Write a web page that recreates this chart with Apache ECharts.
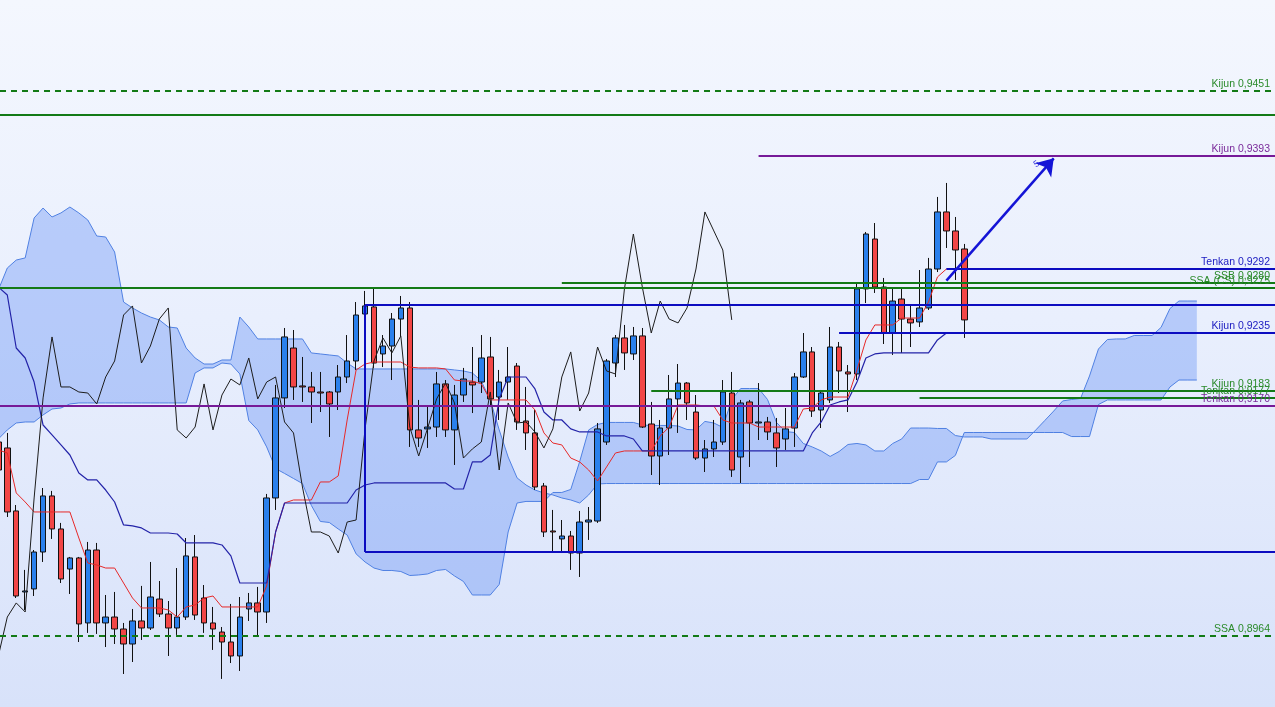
<!DOCTYPE html>
<html><head><meta charset="utf-8">
<script src="https://cdn.jsdelivr.net/npm/echarts@6/dist/echarts.min.js"></script>
<style>
html,body{margin:0;padding:0;width:1275px;height:707px;overflow:hidden;}
body{background:linear-gradient(to bottom,#f4f7fe 0%,#e9effd 45%,#d8e2fa 100%);}
#c{width:1275px;height:707px;}
</style></head><body><div id="c"></div>
<script>
// index of the first element of every series array (candle -1 is cut at the left edge)
const FIRST = -1;
// candles: [open, close, low, high]
const candles = [
[0.91373,0.91123,0.91078,0.91418],[0.91320,0.90748,0.90703,0.91454],[0.90757,0.89997,0.89979,0.90810],[0.90033,0.90042,0.89872,0.90230],
[0.90060,0.90390,0.89997,0.90408],[0.90390,0.90891,0.90301,0.90962],[0.90891,0.90596,0.90507,0.90936],[0.90596,0.90149,0.90113,0.90650],
[0.90238,0.90337,0.90015,0.90346],[0.90337,0.89747,0.89586,0.90346],[0.89756,0.90408,0.89667,0.90480],[0.90408,0.89756,0.89658,0.90471],
[0.89756,0.89809,0.89541,0.90006],[0.89809,0.89702,0.89568,0.90033],[0.89702,0.89568,0.89300,0.89756],[0.89568,0.89774,0.89407,0.89881],
[0.89774,0.89711,0.89604,0.90087],[0.89711,0.89988,0.89693,0.90301],[0.89970,0.89836,0.89809,0.90131],[0.89836,0.89711,0.89461,0.89952],
[0.89711,0.89809,0.89649,0.90247],[0.89809,0.90355,0.89783,0.90515],[0.90346,0.89827,0.89783,0.90542],[0.89979,0.89756,0.89667,0.90095],
[0.89756,0.89702,0.89515,0.89899],[0.89675,0.89586,0.89256,0.89720],[0.89586,0.89461,0.89398,0.89926],[0.89461,0.89809,0.89327,0.89988],
[0.89881,0.89935,0.89774,0.90024],[0.89935,0.89854,0.89640,0.90078],[0.89854,0.90873,0.89756,0.90909],[0.90873,0.91767,0.90766,0.91883],
[0.91767,0.92312,0.91677,0.92392],[0.92213,0.91865,0.91749,0.92374],[0.91874,0.91865,0.91731,0.92133],[0.91865,0.91820,0.91543,0.91999],
[0.91820,0.91811,0.91641,0.91999],[0.91820,0.91713,0.91418,0.91829],[0.91820,0.91954,0.91659,0.92061],[0.91954,0.92097,0.91900,0.92329],
[0.92097,0.92508,0.92017,0.92624],[0.92517,0.92589,0.92499,0.92723],[0.92580,0.92079,0.92035,0.92749],[0.92160,0.92231,0.92043,0.92329],
[0.92231,0.92472,0.91927,0.92526],[0.92472,0.92571,0.92312,0.92678],[0.92571,0.91481,0.91329,0.92624],[0.91481,0.91409,0.91329,0.91749],
[0.91490,0.91507,0.91320,0.91686],[0.91507,0.91892,0.91418,0.91999],[0.91892,0.91481,0.91418,0.91927],[0.91481,0.91793,0.91168,0.91883],
[0.91793,0.91936,0.91731,0.92035],[0.91909,0.91883,0.91632,0.92222],[0.91909,0.92124,0.91811,0.92329],[0.92133,0.91758,0.91686,0.92312],
[0.91775,0.91909,0.91570,0.92017],[0.91909,0.91954,0.91749,0.92222],[0.92052,0.91552,0.91481,0.92079],[0.91561,0.91454,0.91302,0.91865],
[0.91454,0.90971,0.90944,0.91659],[0.90980,0.90569,0.90524,0.91007],[0.90578,0.90569,0.90390,0.90766],[0.90507,0.90533,0.90381,0.90676],
[0.90533,0.90381,0.90230,0.90578],[0.90381,0.90658,0.90167,0.90757],[0.90658,0.90676,0.90498,0.90792],[0.90667,0.91490,0.90650,0.91543],
[0.91373,0.92097,0.91347,0.92115],[0.92079,0.92303,0.91954,0.92329],[0.92303,0.92169,0.92017,0.92419],[0.92160,0.92321,0.92106,0.92401],
[0.92321,0.91507,0.91498,0.92392],[0.91534,0.91248,0.91078,0.91731],[0.91248,0.91498,0.90989,0.91570],[0.91498,0.91758,0.91257,0.91972],
[0.91758,0.91900,0.91454,0.92070],[0.91900,0.91722,0.91570,0.91909],[0.91641,0.91230,0.91212,0.91793],[0.91230,0.91311,0.91105,0.91391],
[0.91311,0.91373,0.91239,0.91570],[0.91373,0.91820,0.91347,0.91927],[0.91811,0.91123,0.91061,0.91999],[0.91239,0.91722,0.91007,0.91749],
[0.91731,0.91543,0.91150,0.91749],[0.91543,0.91552,0.91391,0.91900],[0.91552,0.91463,0.91391,0.91597],[0.91454,0.91320,0.91150,0.91588],
[0.91400,0.91490,0.91302,0.91677],[0.91498,0.91954,0.91329,0.91990],[0.91954,0.92178,0.91945,0.92347],[0.92178,0.91650,0.91597,0.92222],
[0.91659,0.91811,0.91498,0.91838],[0.91749,0.92222,0.91722,0.92401],[0.92222,0.92008,0.91811,0.92267],[0.91999,0.91981,0.91641,0.92061],
[0.91981,0.92741,0.91927,0.92794],[0.92741,0.93232,0.92615,0.93250],[0.93187,0.92758,0.92705,0.93330],[0.92758,0.92347,0.92249,0.92839],
[0.92347,0.92633,0.92151,0.92741],[0.92651,0.92472,0.92169,0.92749],[0.92472,0.92437,0.92222,0.92598],[0.92446,0.92571,0.92401,0.92910],
[0.92571,0.92919,0.92553,0.93018],[0.92919,0.93429,0.92892,0.93563],[0.93429,0.93259,0.93107,0.93688],[0.93259,0.93089,0.92821,0.93384],
[0.93098,0.92464,0.92303,0.93143]
];
const tenkan = [
0.91302,0.91275,0.90918,0.90837,0.90748,0.90748,0.90748,0.90748,0.90748,0.90515,
0.90292,0.90274,0.90247,0.90247,0.90113,0.89979,0.89890,0.89890,0.89890,0.89872,
0.89809,0.89899,0.89917,0.89979,0.89997,0.89899,0.89899,0.89899,0.89899,0.89899,
0.90087,0.90569,0.90828,0.90855,0.90855,0.90855,0.91016,0.91016,0.91070,0.91570,
0.92017,0.92070,0.92088,0.92088,0.92088,0.92088,0.92043,0.92035,0.92035,0.92035,
0.92026,0.91927,0.91918,0.91918,0.91892,0.91749,0.91749,0.91749,0.91749,0.91749,
0.91659,0.91454,0.91364,0.91347,0.91230,0.91195,0.91123,0.91025,0.91150,0.91275,
0.91293,0.91293,0.91293,0.91293,0.91427,0.91507,0.91704,0.91704,0.91704,0.91695,
0.91695,0.91570,0.91543,0.91543,0.91543,0.91507,0.91507,0.91507,0.91507,0.91507,
0.91668,0.91677,0.91749,0.91775,0.91775,0.91775,0.92017,0.92285,0.92419,0.92419,
0.92419,0.92481,0.92481,0.92481,0.92624,0.92848,0.92919,0.92919,0.92919
];
const kijun = [
0.92758,0.92687,0.92213,0.92124,0.91909,0.91525,0.91436,0.91347,0.91257,0.91096,
0.91034,0.91034,0.90944,0.90837,0.90632,0.90623,0.90605,0.90560,0.90560,0.90560,
0.90551,0.90471,0.90471,0.90471,0.90471,0.90453,0.90355,0.90113,0.90113,0.90113,
0.90113,0.90569,0.90828,0.90828,0.90828,0.90828,0.90828,0.90828,0.90828,0.90828,
0.90944,0.90989,0.91007,0.91007,0.91007,0.91007,0.91007,0.91007,0.91007,0.91007,
0.91007,0.90953,0.90953,0.91195,0.91195,0.91257,0.91758,0.91954,0.91954,0.91954,
0.91847,0.91641,0.91570,0.91570,0.91490,0.91463,0.91463,0.91463,0.91427,0.91427,
0.91427,0.91400,0.91293,0.91293,0.91293,0.91293,0.91293,0.91293,0.91293,0.91293,
0.91293,0.91293,0.91293,0.91293,0.91293,0.91293,0.91293,0.91293,0.91293,0.91293,
0.91293,0.91454,0.91552,0.91704,0.91731,0.91749,0.91909,0.92124,0.92160,0.92169,
0.92169,0.92169,0.92169,0.92169,0.92169,0.92285,0.92347,0.92347,0.92347
];
const chikou = [
0.89461,0.89809,0.89935,0.89854,0.90873,0.91767,0.92312,0.91865,0.91865,0.91820,
0.91811,0.91713,0.91954,0.92097,0.92508,0.92589,0.92079,0.92231,0.92472,0.92571,
0.91481,0.91409,0.91507,0.91892,0.91481,0.91793,0.91936,0.91883,0.92124,0.91758,
0.91909,0.91954,0.91552,0.91454,0.90971,0.90569,0.90569,0.90533,0.90381,0.90658,
0.90676,0.91490,0.92097,0.92303,0.92169,0.92321,0.91507,0.91248,0.91498,0.91758,
0.91900,0.91722,0.91230,0.91311,0.91373,0.91820,0.91123,0.91722,0.91543,0.91552,
0.91463,0.91320,0.91490,0.91954,0.92178,0.91650,0.91811,0.92222,0.92008,0.91981,
0.92741,0.93232,0.92758,0.92347,0.92633,0.92472,0.92437,0.92571,0.92919,0.93429,
0.93259,0.93089,0.92464
];
const spanA = [
0.91400,0.91481,0.91543,0.91552,0.91552,0.91615,0.91668,0.91677,0.91713,0.91722,
0.91722,0.91722,0.91722,0.91722,0.91722,0.91722,0.91722,0.91722,0.91722,0.91722,
0.91722,0.91722,0.91990,0.92035,0.92035,0.92079,0.92070,0.91981,0.91565,0.91481,
0.91329,0.91136,0.91092,0.91047,0.91002,0.90806,0.90663,0.90654,0.90596,0.90542,
0.90373,0.90301,0.90247,0.90225,0.90225,0.90216,0.90180,0.90185,0.90194,0.90225,
0.90234,0.90176,0.90127,0.90006,0.90006,0.90006,0.90100,0.90569,0.90828,0.90842,
0.90842,0.90842,0.90922,0.90922,0.90949,0.91199,0.91481,0.91530,0.91548,0.91548,
0.91548,0.91548,0.91525,0.91521,0.91521,0.91521,0.91516,0.91485,0.91481,0.91557,
0.91543,0.91503,0.91753,0.91851,0.91851,0.91851,0.91753,0.91548,0.91467,0.91458,
0.91360,0.91329,0.91293,0.91244,0.91288,0.91351,0.91360,0.91347,0.91293,0.91293,
0.91360,0.91400,0.91498,0.91498,0.91498,0.91494,0.91494,0.91431,0.91418,0.91418,
0.91418,0.91400,0.91400,0.91400,0.91400,0.91400,0.91481,0.91565,0.91650,0.91740,
0.91753,0.91762,0.91963,0.92204,0.92289,0.92294,0.92294,0.92325,0.92325,0.92325,
0.92397,0.92566,0.92633,0.92633,0.92633
];
const spanB = [
0.92732,0.92928,0.92999,0.93018,0.93375,0.93464,0.93384,0.93420,0.93473,0.93420,
0.93357,0.93214,0.93205,0.93071,0.92624,0.92571,0.92526,0.92490,0.92464,0.92401,
0.92392,0.92213,0.92124,0.92070,0.92070,0.92106,0.92106,0.92490,0.92401,0.92294,
0.92294,0.92294,0.92294,0.92294,0.92294,0.92169,0.92160,0.92151,0.92142,0.92079,
0.92026,0.92026,0.92026,0.92026,0.92026,0.92026,0.92026,0.92026,0.92026,0.92026,
0.92026,0.92017,0.92008,0.91990,0.91918,0.91749,0.91481,0.91239,0.91052,0.90989,
0.90944,0.90918,0.90900,0.90873,0.90855,0.90828,0.90900,0.90998,0.91002,0.91002,
0.91002,0.91002,0.91002,0.91002,0.91002,0.91002,0.91002,0.91002,0.91002,0.91002,
0.91002,0.91002,0.91002,0.91002,0.91002,0.91002,0.91002,0.91002,0.91002,0.91002,
0.91002,0.91002,0.91002,0.91002,0.91002,0.91002,0.91002,0.91002,0.91002,0.91002,
0.91002,0.91002,0.91002,0.91038,0.91038,0.91195,0.91195,0.91253,0.91458,0.91458,
0.91458,0.91458,0.91458,0.91458,0.91458,0.91458,0.91458,0.91458,0.91458,0.91458,
0.91422,0.91422,0.91422,0.91708,0.91749,0.91749,0.91749,0.91749,0.91749,0.91749,
0.91749,0.91865,0.91927,0.91927,0.91927
];
// horizontal Ichimoku levels from other time frames
const levelNames  = ['Kijun','','Kijun','Tenkan','SSB','SSA (CS)','','Kijun','Kijun','Tenkan','Tenkan','','SSA'];
const levelValues = [0.9451,0.9430,0.9393,0.9292,0.9280,0.9275,0.92598,0.9235,0.9183,0.9177,0.9170,0.90390,0.8964];
const levelFrom   = [null,null,84,105,62,null,40,93,72,102,null,40,null];   // first candle index (null = whole chart)
const levelFrame  = ['M','W','D','H','W','W','H','H','W','W','D','H','M'];
// price box and trend arrow
const boxFrom = 40, boxTop = 0.92598, boxBottom = 0.90390;
const arrowFrom = [105, 0.92815], arrowTo = [117, 0.93908];
const waveLabel = {text:'5', at:[115.1, 0.93857]};

const X_MIN = -0.816, X_MAX = 141.74;
const frameStyle = {
  M:{color:'#137a16', type:[6,5]},
  W:{color:'#137a16', type:'solid'},
  D:{color:'#761a98', type:'solid'},
  H:{color:'#0c0cc0', type:'solid'}
};
const labelColor = {M:'#2a8a2a', W:'#2a8a2a', D:'#7a2a9a', H:'#1a1ac0'};

const idx = (arr) => arr.map((v,i)=>[FIRST+i, v]);
const candleData = candles.map((c,i)=>[FIRST+i, c[0], c[1], c[2], c[3]]);
const cloudData = spanA.map((a,i)=>[FIRST+i, a, spanB[i]]);

const levelLines = levelValues.map((v,i)=>{
  const st = frameStyle[levelFrame[i]];
  const start = {coord:[levelFrom[i]===null ? X_MIN : levelFrom[i], v],
    lineStyle:{color:st.color, width:2, type:st.type}};
  if (levelNames[i]) {
    start.label = {show:true, position:'insideEndTop', formatter: levelNames[i]+' '+v.toFixed(4).replace('.',','),
      color:labelColor[levelFrame[i]], fontSize:10.5, fontFamily:'Liberation Sans, Arial, sans-serif', distance:[5,1]};
  } else {
    start.label = {show:false};
  }
  return [start, {coord:[X_MAX, v]}];
});
const hs = frameStyle.H;
levelLines.push([{coord:[boxFrom, boxTop], lineStyle:{color:hs.color, width:2, type:'solid'}, label:{show:false}}, {coord:[boxFrom, boxBottom]}]);

const line = (name, data, color, width, z) => ({
  name, type:'line', data, symbol:'none', showSymbol:false, silent:true, z,
  lineStyle:{color, width}, emphasis:{disabled:true}, animation:false
});

const chart = echarts.init(document.getElementById('c'), null, {renderer:'canvas'});
chart.setOption({
  animation:false,
  backgroundColor:'transparent',
  grid:{left:0, right:0, top:0, bottom:0},
  xAxis:{type:'value', min:X_MIN, max:X_MAX, show:false, splitLine:{show:false}},
  yAxis:{type:'value', min:0.89005, max:0.95323, show:false, scale:true, splitLine:{show:false}},
  series:[
    {name:'cloud', type:'custom', data:[0], silent:true, z:1, animation:false,
      renderItem:(params, api)=>{
        const top = cloudData.map(d=>api.coord([d[0], d[1]]));
        const bottom = cloudData.slice().reverse().map(d=>api.coord([d[0], d[2]]));
        return {type:'polygon', shape:{points: top.concat(bottom)},
          style:{fill:'rgba(105,148,245,0.40)', stroke:null}};
      }},
    line('Senkou A', idx(spanA), '#4f80e2', 1, 2),
    line('Senkou B', idx(spanB), '#4f80e2', 1, 2),
    {name:'price', type:'candlestick', data:candleData, encode:{x:0, y:[1,2,3,4]}, barWidth:6, z:3, silent:true,
      itemStyle:{color:'#2a80ec', color0:'#f24646', borderColor:'#111', borderColor0:'#111', borderWidth:1},
      emphasis:{disabled:true}},
    line('Tenkan', idx(tenkan), '#e62828', 1, 4),
    line('Kijun', idx(kijun), '#2323a8', 1.2, 4),
    Object.assign(line('Chikou', idx(chikou), '#1c1c1c', 1, 5), {
      markLine:{silent:true, symbol:['none','none'], animation:false, z:6, data:levelLines, emphasis:{disabled:true}}
    }),
    {name:'trend', type:'line', data:[arrowFrom], symbol:'none', showSymbol:false, silent:true, lineStyle:{opacity:0}, z:7,
      markLine:{silent:true, symbol:['none','arrow'], symbolSize:16, animation:false, z:7,
        data:[[{coord:arrowFrom, lineStyle:{color:'#1414d6', width:2.5, type:'solid'}, label:{show:false}}, {coord:arrowTo}]]},
      markPoint:{silent:true, animation:false, data:[{coord:waveLabel.at, symbol:'circle', symbolSize:0,
        label:{show:true, formatter:waveLabel.text, color:'#3a3ae0', fontSize:9, rotate:35, fontFamily:'Liberation Sans, Arial'}}]}
    }
  ]
});
</script></body></html>
